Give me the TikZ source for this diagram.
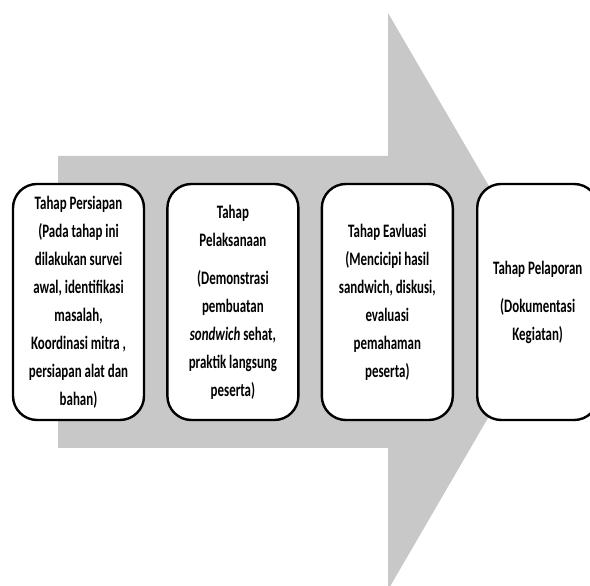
\documentclass[tikz,border=0pt]{standalone}
\usepackage{fontspec}
\setmainfont{Carlito}[FakeStretch=0.68]
\usepackage{tikz}
\usetikzlibrary{positioning}
\definecolor{ArrowGray}{RGB}{200,200,200}
\tikzset{
    stagebox/.style={
        draw, line width=2.4pt, rounded corners=24pt, fill=white,
        minimum width=131pt, minimum height=236pt, inner sep=2pt,
        align=center, font=\fontsize{19}{28}\selectfont\bfseries
    },
    bigarrow/.style={
        fill=ArrowGray, draw=none
    }
}
\begin{document}
\begin{tikzpicture}[x=1pt, y=1pt]
    \useasboundingbox (0,0) rectangle (590,586);
    \fill[bigarrow] (58,430) -- (388,430) -- (388,573) -- (556,285)
        -- (388,-4) -- (388,138) -- (58,138) -- cycle;
    \node[stagebox] (persiapan) at (78.5,284) {Tahap Persiapan\\(Pada tahap ini\\dilakukan survei\\awal, identifikasi\\masalah,\\Koordinasi mitra ,\\persiapan alat dan\\bahan)};
    \node[stagebox, right=21pt of persiapan] (pelaksanaan) {Tahap\\Pelaksanaan\\[10pt](Demonstrasi\\pembuatan\\\textit{sondwich} sehat,\\praktik langsung\\peserta)};
    \node[stagebox, right=21pt of pelaksanaan] (evaluasi) {Tahap Eavluasi\\(Mencicipi hasil\\sandwich, diskusi,\\evaluasi\\pemahaman\\peserta)};
    \node[stagebox, right=22pt of evaluasi, minimum width=121pt] (pelaporan) {Tahap Pelaporan\\[10pt](Dokumentasi\\Kegiatan)};
\end{tikzpicture}
\end{document}
